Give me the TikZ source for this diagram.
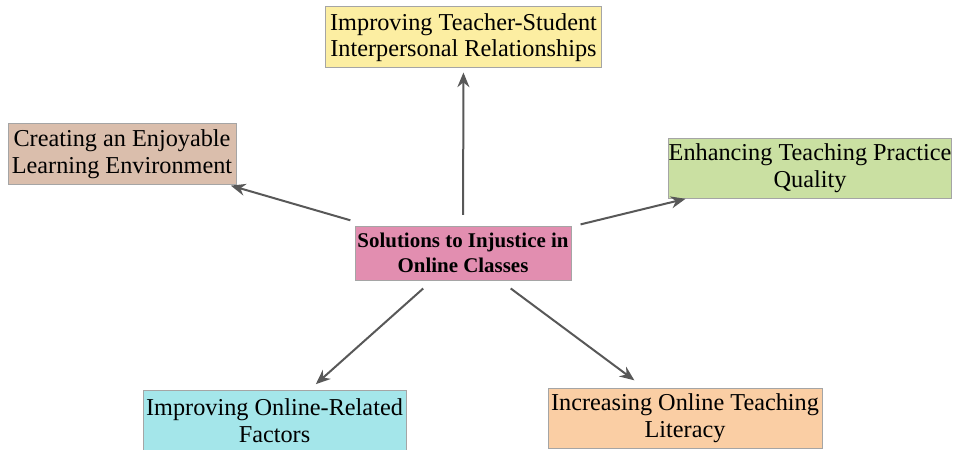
\documentclass[tikz,border=0pt]{standalone}
\usepackage{fontspec}
\setmainfont{Liberation Serif}
\usetikzlibrary{arrows.meta}

\definecolor{boxline}{RGB}{165,165,165}
\definecolor{spokegray}{RGB}{88,88,88}
\definecolor{hubpink}{RGB}{226,142,176}
\definecolor{relyellow}{RGB}{252,238,162}
\definecolor{envtan}{RGB}{218,190,172}
\definecolor{pracgreen}{RGB}{202,224,162}
\definecolor{onlinecyan}{RGB}{164,230,234}
\definecolor{litpeach}{RGB}{250,206,164}

\tikzset{every picture/.style={line width=0.75pt}}
\tikzset{
	topic/.style={draw=boxline, line width=0.75pt, align=center, inner sep=0pt,
		font=\fontsize{18.2}{20}\selectfont},
	hub/.style={topic, font=\fontsize{15.7}{18.5}\selectfont\bfseries},
	spoke/.style={draw=spokegray, line width=1.5pt, -{Stealth[length=11pt,width=9pt]}},
}

\begin{document}
\begin{tikzpicture}[x=0.75pt,y=0.75pt,yscale=-1,xscale=1]
	\useasboundingbox (0,0) rectangle (955,449);

	% Hub
	\node [hub, fill=hubpink, minimum width=162pt, minimum height=40.5pt] (hub) at (463,253) {Solutions to Injustice in\\Online Classes};

	% Text Node
	\node [topic, fill=relyellow, minimum width=207pt, minimum height=45.75pt] (rel) at (463.5,37.5) {Improving Teacher-Student\\Interpersonal Relationships};
	% Text Node
	\node [topic, fill=envtan, minimum width=171pt, minimum height=45pt] (env) at (122,154) {Creating an Enjoyable\\Learning Environment};
	% Text Node
	\node [topic, fill=pracgreen, minimum width=210pt, minimum height=44.25pt] (prac) at (810,168.5) {Enhancing Teaching Practice\\Quality};
	% Text Node
	\node [topic, fill=onlinecyan, minimum width=197.25pt, minimum height=46.5pt] (online) at (274.5,421) {Improving Online-Related\\Factors};
	% Text Node
	\node [topic, fill=litpeach, minimum width=205.5pt, minimum height=45pt] (lit) at (685,418) {Increasing Online Teaching\\Literacy};

	% Arrows out of the hub
	\draw [spoke, shorten <=8pt, shorten >=3pt] (hub) -- (rel);
	\draw [spoke, shorten <=14pt, shorten >=3pt] (hub) -- (env);
	\draw [spoke, shorten <=7pt, shorten >=1pt] (hub) -- (prac);
	\draw [spoke, shorten <=9pt, shorten >=6pt] (hub) -- (online);
	\draw [spoke, shorten <=10pt, shorten >=9pt] (hub) -- (lit);

\end{tikzpicture}
\end{document}
